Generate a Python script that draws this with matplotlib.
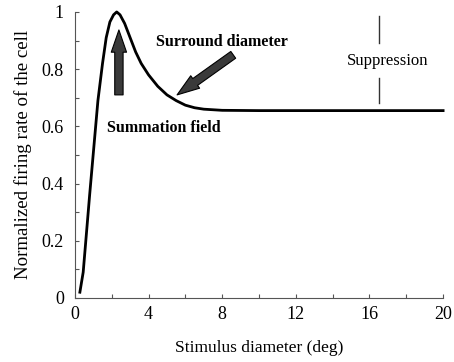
import matplotlib
matplotlib.use("Agg")
import matplotlib.pyplot as plt
from matplotlib.ticker import MultipleLocator

plt.rcParams['font.family'] = ['Liberation Serif', 'DejaVu Serif']

# curve
diam = [0.27, 0.45, 0.8, 1.25, 1.5, 1.7, 1.9, 2.1, 2.27, 2.45, 2.7, 3.0, 3.3,
        3.6, 4.0, 4.5, 5.0, 5.5, 6.0, 6.5, 7.0, 8.0, 10, 14, 20]
rate = [0.02, 0.09, 0.36, 0.69, 0.82, 0.91, 0.965, 0.99, 1.0, 0.99, 0.96,
        0.91, 0.86, 0.82, 0.78, 0.74, 0.71, 0.69, 0.674, 0.665, 0.66, 0.656,
        0.655, 0.655, 0.655]

supp_x = 16.5

fig = plt.figure(figsize=(4.54, 3.62), dpi=100)
ax = fig.add_axes([0.165, 0.177, 0.811, 0.79])

ax.plot(diam, rate, color='black', lw=2, clip_on=False)

ax.set_xlim(0, 20)
ax.set_ylim(0, 1)
ax.spines['top'].set_visible(False)
ax.spines['right'].set_visible(False)
for s in ['left', 'bottom']:
    ax.spines[s].set_color('#555555')
    ax.spines[s].set_linewidth(0.8)

ax.xaxis.set_major_locator(MultipleLocator(4))
ax.xaxis.set_minor_locator(MultipleLocator(2))
ax.yaxis.set_major_locator(MultipleLocator(0.2))
ax.yaxis.set_minor_locator(MultipleLocator(0.1))
ax.yaxis.set_major_formatter(plt.FuncFormatter(lambda v, p: '%g' % round(v, 1)))
ax.tick_params(which='both', direction='in', length=3, width=0.8, color='#555555',
               labelsize=13)
ax.tick_params(axis='x', pad=6)
ax.tick_params(axis='y', pad=8)

ax.set_xlabel('Stimulus diameter (deg)', fontsize=12.5, labelpad=12)
ax.set_ylabel('Normalized firing rate of the cell', fontsize=13.6, labelpad=7)

# suppression marker
ax.plot([supp_x, supp_x], [0.89, 0.985], color='#333333', lw=1)
ax.plot([supp_x, supp_x], [0.68, 0.77], color='#333333', lw=1)
ax.text(17.0, 0.83, 'Suppression', fontsize=12, ha='center', va='center')

ax.text(8.0, 0.895, 'Surround diameter', fontsize=11.5, fontweight='bold',
        ha='center', va='center')
ax.text(4.85, 0.595, 'Summation field', fontsize=11.5, fontweight='bold',
        ha='center', va='center')

style = 'simple,head_length=1.6,head_width=1.1,tail_width=0.6'
ax.annotate('', xy=(2.39, 0.937), xytext=(2.39, 0.71),
            arrowprops=dict(arrowstyle=style, mutation_scale=10,
                            fc='#3a3a3a', ec='black', lw=0.8,
                            shrinkA=0, shrinkB=0))
ax.annotate('', xy=(5.55, 0.71), xytext=(8.6, 0.85),
            arrowprops=dict(arrowstyle=style, mutation_scale=10,
                            fc='#3a3a3a', ec='black', lw=0.8,
                            shrinkA=0, shrinkB=0))

fig.savefig('out.png', dpi=100)
